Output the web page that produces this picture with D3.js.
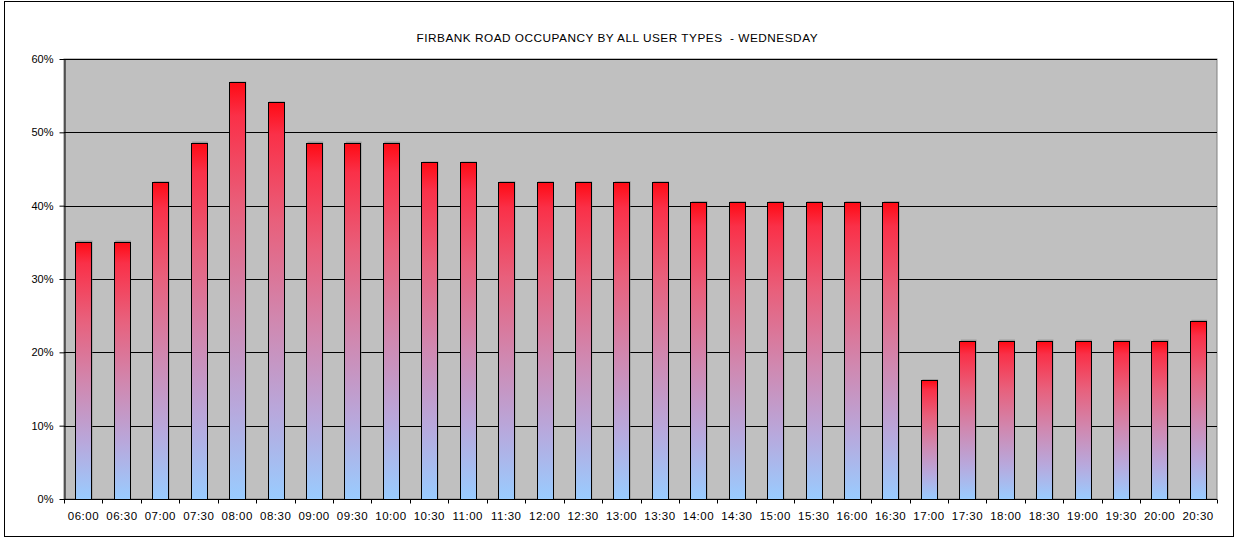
<!DOCTYPE html>
<html><head><meta charset="utf-8">
<script src="https://cdn.jsdelivr.net/npm/d3@7"></script>
<style>body{margin:0;background:#fff}svg{display:block}text{font-family:Arial,"Liberation Sans",sans-serif}</style>
</head><body><svg id="c" width="1237" height="538"></svg>
<script>
const categories = ["06:00","06:30","07:00","07:30","08:00","08:30","09:00","09:30","10:00","10:30","11:00","11:30","12:00","12:30","13:00","13:30","14:00","14:30","15:00","15:30","16:00","16:30","17:00","17:30","18:00","18:30","19:00","19:30","20:00","20:30"];
const occupancy = [0.351,0.351,0.432,0.486,0.568,0.541,0.486,0.486,0.486,0.459,0.459,0.432,0.432,0.432,0.432,0.432,0.405,0.405,0.405,0.405,0.405,0.405,0.162,0.216,0.216,0.216,0.216,0.216,0.216,0.243];
const yTicks = [0,0.1,0.2,0.3,0.4,0.5,0.6];
const title = "FIRBANK ROAD OCCUPANCY BY ALL USER TYPES  - WEDNESDAY";

const svg = d3.select("#c");
const L=64, R=1217, T=59, B=499;
svg.append("rect").attr("x",4.5).attr("y",1.5).attr("width",1229).attr("height",535).attr("fill","#fff").attr("stroke","#000").attr("stroke-width",1);

const defs = svg.append("defs");
const g = defs.append("linearGradient").attr("id","bg").attr("x1",0).attr("y1",0).attr("x2",0).attr("y2",1);
[[0,"#ff0a14"],[0.08,"#fa3048"],[0.3,"#e8607c"],[0.55,"#d088b0"],[0.78,"#b8a8dc"],[1,"#99ccff"]].forEach(([o,c])=>g.append("stop").attr("offset",o).attr("stop-color",c));

const x = d3.scaleBand().domain(categories).range([L,R]).paddingInner(0.59).paddingOuter(0.295);
const y = d3.scaleLinear().domain([0,0.6]).range([B,T]);

svg.append("rect").attr("x",L).attr("y",T).attr("width",R-L).attr("height",B-T).attr("fill","#c0c0c0").attr("stroke","#808080").attr("stroke-width",1);

svg.append("g").selectAll("line").data(yTicks.slice(1)).join("line")
  .attr("x1",L).attr("x2",R).attr("y1",d=>Math.round(y(d))+0.5).attr("y2",d=>Math.round(y(d))+0.5)
  .attr("stroke","#000").attr("stroke-width",1);

// shadows
svg.append("g").selectAll("rect").data(occupancy).join("rect")
  .attr("x",(d,i)=>x(categories[i])+1.5).attr("y",d=>y(d)-1)
  .attr("width",x.bandwidth()).attr("height",d=>B-y(d)+1)
  .attr("fill","#808080").attr("opacity",0.6);

svg.append("g").selectAll("rect").data(occupancy).join("rect")
  .attr("x",(d,i)=>Math.round(x(categories[i]))+0.5).attr("y",d=>Math.round(y(d))+0.5)
  .attr("width",Math.round(x.bandwidth())).attr("height",d=>B-Math.round(y(d)))
  .attr("fill","url(#bg)").attr("stroke","#000").attr("stroke-width",1);

const ya = d3.axisLeft(y).tickValues(yTicks).tickFormat(d3.format(".0%")).tickSize(5).tickSizeOuter(0);
const yg = svg.append("g").attr("transform",`translate(${L+0.5},0)`).call(ya);
yg.select(".domain").attr("stroke","#000");
yg.selectAll("text").attr("font-size","11px").attr("fill","#000").attr("dx","-3");

const xa = d3.axisBottom(x).tickSize(0).tickSizeOuter(0);
const xg = svg.append("g").attr("transform",`translate(0,${B+0.5})`).call(xa);
xg.select(".domain").attr("stroke","#000").attr("d",`M${L},0H${R}`);
xg.selectAll("text").attr("font-size","11.5px").attr("fill","#000").attr("dy","1.55em").attr("letter-spacing","0.5px").attr("dx","0.25px");
const step = x.step();
xg.append("g").selectAll("line").data(d3.range(categories.length+1)).join("line")
  .attr("x1",i=>Math.round(L+i*step)+0.5).attr("x2",i=>Math.round(L+i*step)+0.5).attr("y1",0).attr("y2",4).attr("stroke","#000");

svg.append("text").attr("x",416.5).attr("y",42).attr("text-anchor","start").attr("font-size","11.8px").attr("fill","#000")
  .attr("xml:space","preserve").style("white-space","pre")
  .attr("textLength",401).attr("lengthAdjust","spacing").text(title);
</script></body></html>
